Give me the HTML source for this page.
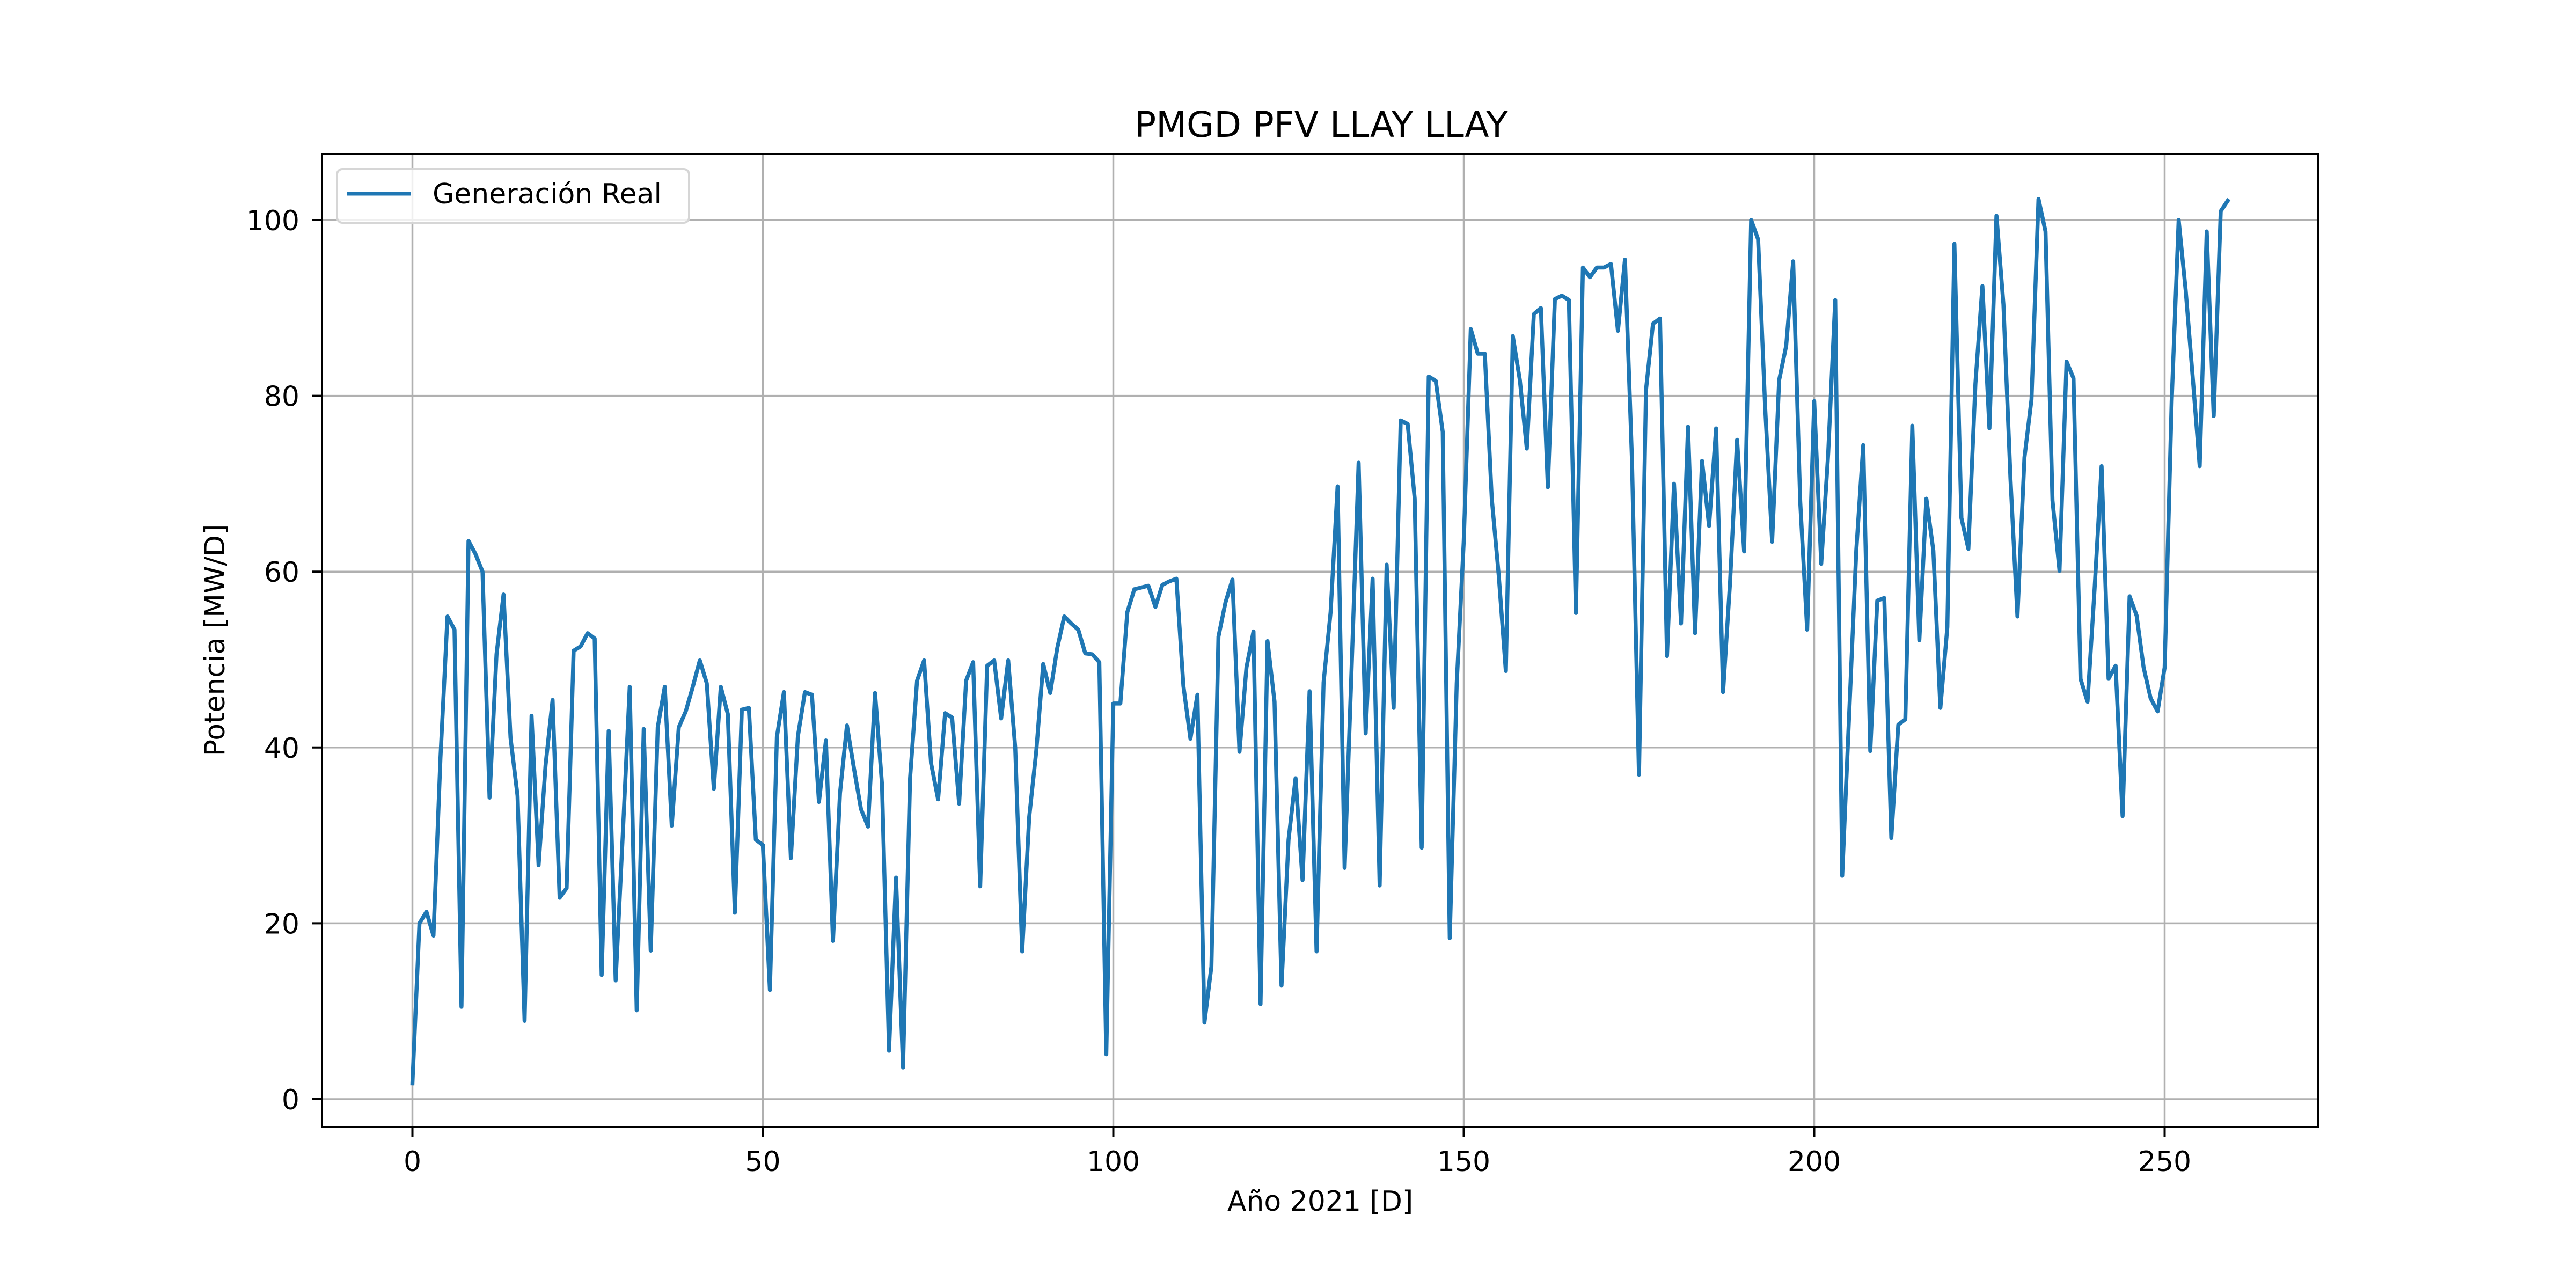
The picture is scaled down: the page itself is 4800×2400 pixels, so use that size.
<!DOCTYPE html>
<html><head><meta charset="utf-8"><style>
html,body{margin:0;padding:0;background:#fff;}
svg{display:block;font-family:"DejaVu Sans","Liberation Sans",sans-serif;}
</style></head><body>
<svg id="chart" width="4800" height="2400" viewBox="0 0 4800 2400" xmlns="http://www.w3.org/2000/svg">
<rect x="0" y="0" width="4800" height="2400" fill="#fff"/>
<g id="grid"></g>
<g id="series"></g>
<rect x="600" y="287" width="3720" height="1813" fill="none" stroke="#000" stroke-width="4"/>
<g id="ticks"></g>
<text x="2462" y="255" font-size="66" text-anchor="middle">PMGD PFV LLAY LLAY</text>
<text x="2460" y="2256" font-size="52" text-anchor="middle">Año 2021 [D]</text>
<text transform="translate(418,1193) rotate(-90)" font-size="52" text-anchor="middle">Potencia [MW/D]</text>
<g>
<rect x="628" y="315" width="656" height="100" rx="10" fill="#fff" fill-opacity="0.8" stroke="#d6d6d6" stroke-width="4"/>
<line x1="646" y1="361" x2="765" y2="361" stroke="#1f77b4" stroke-width="7"/>
<text x="806" y="379" font-size="52">Generación Real</text>
</g>
</svg>
<script>
const yValues = [1.8,20,21.3,18.6,38.8,54.9,53.4,10.5,63.5,62,60,34.3,50.6,57.4,41.1,34.5,8.9,43.6,26.6,38,45.4,22.9,24,51,51.5,53,52.4,14.1,41.9,13.5,29.9,46.9,10.1,42.1,16.9,42.3,46.9,31.1,42.3,44.1,
46.9,49.9,47.3,35.3,46.9,43.8,21.2,44.3,44.5,29.5,28.9,12.4,41.2,46.3,27.4,41.3,46.3,46,33.8,40.8,18,34.8,42.5,37.6,33,31,46.2,35.8,5.5,25.2,3.6,36.5,47.6,49.9,38.2,34.1,43.9,43.4,33.6,47.6,
49.7,24.2,49.3,49.9,43.3,49.9,40,16.8,32.1,39.5,49.5,46.2,51.3,54.9,54.1,53.4,50.7,50.6,49.7,5.1,45,45,55.4,58,58.2,58.4,56,58.5,58.9,59.2,47,41,46,8.7,15.1,52.6,56.5,59.1,39.5,49.1,
53.2,10.8,52.1,45.2,12.9,29.5,36.5,24.9,46.4,16.8,47.4,55.4,69.7,26.3,49,72.4,41.6,59.2,24.3,60.8,44.5,77.2,76.8,68.3,28.6,82.2,81.7,75.9,18.3,47.3,63.5,87.6,84.8,84.8,68.3,59.5,48.7,86.8,81.8,74,
89.3,90,69.6,91,91.4,90.9,55.3,94.6,93.5,94.6,94.6,95,87.4,95.5,72.8,36.9,80.7,88.2,88.8,50.4,70,54.1,76.5,53,72.6,65.2,76.3,46.3,58.9,75,62.3,100,97.8,78.7,63.4,81.8,85.7,95.3,68,53.4,
79.4,60.9,73.5,90.9,25.4,44,62.4,74.4,39.6,56.7,57,29.7,42.6,43.2,76.6,52.2,68.3,62.4,44.5,53.7,97.3,66.1,62.6,81.4,92.5,76.3,100.5,90.4,70.6,54.9,73,79.6,102.4,98.7,68.1,60.1,83.9,82,47.8,45.2,
58,72,47.8,49.3,32.2,57.2,55,49.1,45.6,44.1,49.1,79.4,100,92,82.2,72,98.7,77.7,101,102.2];
const xTicks = [0,50,100,150,200,250];
const yTicks = [0,20,40,60,80,100];
const NS = "http://www.w3.org/2000/svg";
const X0 = 768.5, XS = 13.06, Y0 = 2048, YS = 16.38;
function xPos(v){ return X0 + v*XS; }
function yPos(v){ return Y0 - v*YS; }
const grid = document.getElementById('grid');
const ticks = document.getElementById('ticks');
function mk(tag, attrs, parent){ const e=document.createElementNS(NS,tag); for(const k in attrs) e.setAttribute(k,attrs[k]); parent.appendChild(e); return e; }
xTicks.forEach(t=>{
  const x = xPos(t);
  const g = mk('line',{x1:x,y1:287,x2:x,y2:2100,stroke:'#b0b0b0','stroke-width':3.5},grid);
  
  
  const tk = mk('line',{x1:x,y1:2100,x2:x,y2:2119,stroke:'#000','stroke-width':4},ticks);
  
  
  const tl = mk('text',{x:x,y:2182,'font-size':52,'text-anchor':'middle'},ticks);
  tl.textContent = t;
  
  
});
yTicks.forEach(t=>{
  const y = yPos(t);
  const g = mk('line',{x1:600,y1:y,x2:4320,y2:y,stroke:'#b0b0b0','stroke-width':3.5},grid);
  
  
  const tk = mk('line',{x1:581,y1:y,x2:600,y2:y,stroke:'#000','stroke-width':4},ticks);
  
  
  const tl = mk('text',{x:558,y:y+19,'font-size':52,'text-anchor':'end'},ticks);
  tl.textContent = t;
  
  
});
const pts = yValues.map((v,i)=>xPos(i).toFixed(1)+','+yPos(v).toFixed(1)).join(' ');
const line = mk('polyline',{points:pts,fill:'none',stroke:'#1f77b4','stroke-width':7.5,'stroke-linejoin':'round','stroke-linecap':'square'},document.getElementById('series'));


</script>
</body></html>
